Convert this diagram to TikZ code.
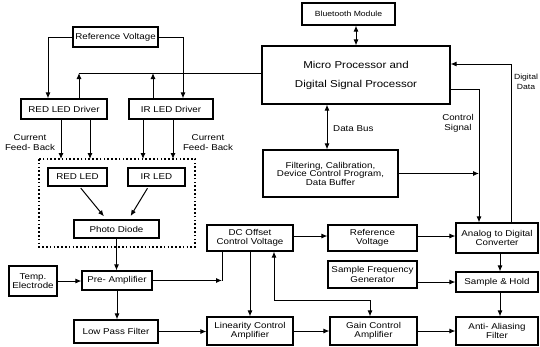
\documentclass[tikz,border=0pt]{standalone}
\usepackage{fontspec}
\setmainfont[FakeStretch=1.15]{Liberation Sans}
\usetikzlibrary{arrows.meta}
\tikzset{
  blk/.style={draw, line width=1.1pt, inner sep=1pt, align=center, font=\fontsize{8.5}{9.5}\selectfont},
  lbl/.style={inner sep=0pt, align=center, font=\fontsize{8.5}{10}\selectfont},
  ln/.style={line width=1pt},
  arr/.style={line width=1pt, -{Latex[length=6pt,width=5pt]}},
  darr/.style={line width=1pt, {Latex[length=6pt,width=5pt]}-{Latex[length=6pt,width=5pt]}}
}
\begin{document}
\begin{tikzpicture}[x=1pt,y=-1pt]
\fill[white] (0,0) rectangle (540,346);
\useasboundingbox (0,0) rectangle (540,346);
% boxes
\node[blk, minimum width=85pt, minimum height=20pt] (refv1) at (115.5,37) {Reference Voltage};
\node[blk, minimum width=93pt, minimum height=22pt, font=\fontsize{7.5}{9}\selectfont] (bt) at (348.5,14) {Bluetooth Module};
\node[blk, minimum width=188pt, minimum height=58pt, font=\fontsize{10}{19}\selectfont] (mp) at (356,75) {Micro Processor and\\Digital Signal Processor};
\node[blk, minimum width=86pt, minimum height=20pt] (redd) at (64,109) {RED LED Driver};
\node[blk, minimum width=84pt, minimum height=20pt] (irdrv) at (171,109) {IR LED Driver};
\node[blk, minimum width=135pt, minimum height=47pt, font=\fontsize{8.5}{8.5}\selectfont] (filt) at (330.5,173.5) {Filtering, Calibration,\\Device Control Program,\\Data Buffer};
\node[blk, minimum width=59pt, minimum height=18pt] (redled) at (77.5,177) {RED LED};
\node[blk, minimum width=57pt, minimum height=18pt] (irled) at (156.5,177) {IR LED};
\node[blk, minimum width=85pt, minimum height=18pt] (pd) at (116.5,229) {Photo Diode};
\node[blk, minimum width=70pt, minimum height=19pt] (pre) at (117,280.5) {Pre- Amplifier};
\node[blk, minimum width=48pt, minimum height=30pt] (temp) at (33,281) {Temp.\\Electrode};
\node[blk, minimum width=84pt, minimum height=23pt] (lpf) at (116,331.5) {Low Pass Filter};
\node[blk, minimum width=86pt, minimum height=26pt] (dc) at (250,238) {DC Offset\\Control Voltage};
\node[blk, minimum width=86pt, minimum height=28pt] (lin) at (250,331) {Linearity Control\\Amplifier};
\node[blk, minimum width=87pt, minimum height=28pt] (gain) at (373.5,331) {Gain Control\\Amplifier};
\node[blk, minimum width=82pt, minimum height=28pt] (aa) at (497,331) {Anti- Aliasing\\Filter};
\node[blk, minimum width=82pt, minimum height=20pt] (sh) at (497,282) {Sample \& Hold};
\node[blk, minimum width=82pt, minimum height=30pt] (adc) at (497,238) {Analog to Digital\\Converter};
\node[blk, minimum width=89pt, minimum height=26pt] (refv2) at (372.5,238) {Reference\\Voltage};
\node[blk, minimum width=89pt, minimum height=27pt] (sfg) at (372.5,274.5) {Sample Frequency\\Generator};
% dotted enclosure
\coordinate (db1) at (39,159);
\coordinate (db2) at (195,247);
\draw[line width=1.1pt, dash pattern=on 1.6pt off 2.2pt] (db1) rectangle (db2);
% labels
\node[lbl] (lcfb1) at (30,143) {Current\\Feed- Back};
\node[lbl] (lcfb2) at (208,143) {Current\\Feed- Back};
\node[lbl, anchor=west] (ldb) at (333,129) {Data Bus};
\node[lbl] (lcs) at (458,123) {Control\\Signal};
\node[lbl, font=\fontsize{7.5}{9.5}\selectfont] (ldd) at (526,82) {Digital\\Data};
% reference voltage to drivers
\draw[arr] (refv1.west) -| ([xshift=-16pt]redd.north);
\draw[arr] (refv1.east) -| ([xshift=12pt]irdrv.north);
% bus line from MP to drivers
\coordinate (busL) at (79,73);
\draw[ln] (busL) -- (busL -| mp.west);
\draw[arr] ([xshift=15pt]redd.north) -- ([xshift=15pt]redd.north |- busL);
\draw[arr] ([xshift=-18pt]irdrv.north) -- ([xshift=-18pt]irdrv.north |- busL);
% bluetooth
\draw[darr] (mp.north) -- (mp.north |- bt.south);
% data bus
\draw[darr] ([xshift=-29pt]mp.south) -- ([xshift=-29pt]mp.south |- filt.north);
% control signal
\coordinate (cs) at (479,89);
\draw[ln] (mp.east |- cs) -- (cs);
\draw[arr] (cs) -- (cs |- adc.north);
\draw[arr] (filt.east) -- (filt.east -| cs);
% digital data
\coordinate (dd) at (511,64);
\draw[arr] (dd |- adc.north) -- (dd) -- (dd -| mp.east);
% drivers to LEDs
\draw[arr] ([xshift=-3pt]redd.south) -- ([xshift=-3pt]redd.south |- db1);
\draw[arr] ([xshift=26pt]redd.south) -- ([xshift=26pt]redd.south |- db1);
\draw[arr] ([xshift=-28pt]irdrv.south) -- ([xshift=-28pt]irdrv.south |- db1);
\draw[arr] ([xshift=2pt]irdrv.south) -- ([xshift=2pt]irdrv.south |- db1);
% LEDs to photo diode
\draw[arr, shorten <=2pt, shorten >=4pt] ([xshift=2pt]redled.south) -- ([xshift=-10pt]pd.north);
\draw[arr, shorten <=2pt, shorten >=4pt] ([xshift=-8pt]irled.south) -- ([xshift=12pt]pd.north);
% signal chain
\draw[arr] (pd.south) -- (pd.south |- pre.north);
\draw[arr] (temp.east) -- (temp.east -| pre.west);
\coordinate (j1) at ([xshift=-28pt]dc.south |- pre.east);
\draw[arr] (pre.east) -- (j1);
\draw[ln] ([xshift=-28pt]dc.south) -- (j1);
\draw[arr] (pre.south) -- (pre.south |- lpf.north);
\draw[arr] (lpf.east) -- (lpf.east -| lin.west);
\draw[arr] (dc.south) -- (lin.north);
\coordinate (fb) at (0,300);
\draw[darr] ([xshift=24pt]dc.south) |- ([xshift=-3.5pt]gain.north |- fb) -- ([xshift=-3.5pt]gain.north);
\draw[arr] (lin.east) -- (lin.east -| gain.west);
\draw[arr] (gain.east) -- (gain.east -| aa.west);
\draw[arr] ([yshift=2pt]dc.east) -- ([yshift=2pt]dc.east -| refv2.west);
\draw[arr] ([yshift=2pt]refv2.east) -- ([yshift=2pt]refv2.east -| adc.west);
\draw[arr] (sfg.east |- sh.west) -- (sh.west);
\draw[arr] ([xshift=3pt]adc.south) -- ([xshift=3pt]adc.south |- sh.north);
\draw[arr] ([xshift=3pt]sh.south) -- ([xshift=3pt]sh.south |- aa.north);
\end{tikzpicture}
\end{document}
